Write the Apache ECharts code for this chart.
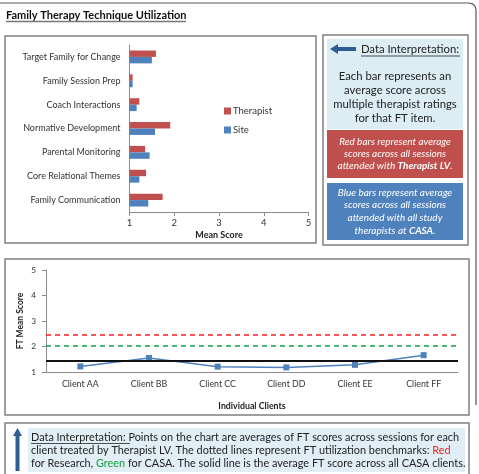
<!DOCTYPE html>
<html>
<head>
<meta charset="utf-8">
<script src="https://cdn.jsdelivr.net/npm/echarts@6/dist/echarts.min.js"></script>
<style>
  html, body { margin: 0; background: #fff; }
  #main { width: 479px; height: 474px; }
</style>
</head>
<body>
<div id="main"></div>
<script>
// FT items, bottom to top as on the chart
const items = ['Family Communication', 'Core Relational Themes', 'Parental Monitoring', 'Normative Development', 'Coach Interactions', 'Family Session Prep', 'Target Family for Change']
const therapist = [1.74, 1.37, 1.35, 1.91, 1.22, 1.07, 1.59]
const site = [1.42, 1.22, 1.45, 1.57, 1.16, 1.07, 1.50]
const scoreTicks = [1, 2, 3, 4, 5]

const clients = ['Client AA', 'Client BB', 'Client CC', 'Client DD', 'Client EE', 'Client FF']
const clientScores = [1.22, 1.55, 1.21, 1.18, 1.28, 1.66]
const researchBenchmark = 2.47
const casaBenchmark = 2.03
const casaAverage = 1.43

const FONT = 'Lato'
const RED = '#C0504D'
const BLUE = '#4F81BD'
const GREY = '#8c8c8c'
const ARROW = '#2E5D93'

const chart = echarts.init(document.getElementById('main'))

const axisBase = {
  min: scoreTicks[0],
  max: scoreTicks[scoreTicks.length - 1],
  interval: scoreTicks[1] - scoreTicks[0],
  axisLine: { show: true, lineStyle: { color: GREY } },
  axisTick: { show: true, length: 4, lineStyle: { color: GREY } },
  splitLine: { show: false },
  axisLabel: { fontFamily: FONT, fontSize: 9.5, color: '#333', margin: 6 }
}

chart.setOption({
  animation: false,
  textStyle: { fontFamily: FONT },
  grid: [
    { left: 129.5, right: 170.5, top: 45, bottom: 262 },
    { left: 46, right: 21, top: 270, bottom: 102 }
  ],
  legend: {
    data: ['Therapist', 'Site'],
    orient: 'vertical',
    left: 219,
    top: 101,
    icon: 'rect',
    itemWidth: 7,
    itemHeight: 7,
    itemGap: 9,
    textStyle: { fontFamily: FONT, fontSize: 9.5, color: '#333', padding: [0, 0, 0, -3] }
  },
  xAxis: [
    Object.assign({}, axisBase, {
      type: 'value',
      gridIndex: 0,
      name: 'Mean Score',
      nameLocation: 'middle',
      nameGap: 19,
      nameTextStyle: { fontFamily: FONT, fontSize: 9, fontWeight: 'bold', color: '#222' }
    }),
    {
      type: 'category',
      gridIndex: 1,
      data: clients,
      axisLine: { lineStyle: { color: GREY } },
      axisTick: { length: 4, lineStyle: { color: GREY } },
      axisLabel: { fontFamily: FONT, fontSize: 8.8, color: '#333', margin: 8 },
      name: 'Individual Clients',
      nameLocation: 'middle',
      nameGap: 30,
      nameTextStyle: { fontFamily: FONT, fontSize: 8.8, fontWeight: 'bold', color: '#222' }
    }
  ],
  yAxis: [
    {
      type: 'category',
      gridIndex: 0,
      data: items,
      axisLine: { lineStyle: { color: GREY } },
      axisTick: { length: 4, lineStyle: { color: GREY } },
      axisLabel: { fontFamily: FONT, fontSize: 9, color: '#333', margin: 9 }
    },
    Object.assign({}, axisBase, {
      type: 'value',
      gridIndex: 1,
      axisLabel: { fontFamily: FONT, fontSize: 8.3, color: '#333', margin: 10 },
      name: 'FT Mean Score',
      nameLocation: 'middle',
      nameRotate: 90,
      nameGap: 21,
      nameMoveOverlap: false,
      nameTextStyle: { fontFamily: FONT, fontSize: 8.5, fontWeight: 'bold', color: '#222' }
    })
  ],
  series: [
    {
      name: 'Therapist',
      type: 'bar',
      xAxisIndex: 0,
      yAxisIndex: 0,
      data: therapist,
      itemStyle: { color: RED },
      barCategoryGap: '46%',
      barGap: '0%'
    },
    {
      name: 'Site',
      type: 'bar',
      xAxisIndex: 0,
      yAxisIndex: 0,
      data: site,
      itemStyle: { color: BLUE },
      barCategoryGap: '46%',
      barGap: '0%'
    },
    {
      name: 'Client',
      type: 'line',
      xAxisIndex: 1,
      yAxisIndex: 1,
      data: clientScores,
      symbol: 'rect',
      symbolSize: 6,
      itemStyle: { color: BLUE },
      lineStyle: { color: BLUE, width: 1.5 },
      z: 3,
      markLine: {
        silent: true,
        symbol: 'none',
        label: { show: false },
        data: [
          { yAxis: researchBenchmark, lineStyle: { color: '#FF2020', type: [5, 4], width: 1.5 } },
          { yAxis: casaBenchmark, lineStyle: { color: '#10A040', type: [5, 4], width: 1.5 } },
          { yAxis: casaAverage, lineStyle: { color: '#111', type: 'solid', width: 2 } }
        ]
      }
    }
  ],
  graphic: [
    // outer frame (top and right edges only)
    { type: 'polyline', shape: { points: [[-5, 3], [469, 3], [472.5, 3.8], [475, 6], [476, 9.5], [476, 405]] }, style: { fill: null, stroke: '#555', lineWidth: 1.2 }, z: -1 },
    // title
    { type: 'text', x: 6, y: 15, style: { text: 'Family Therapy Technique Utilization', font: 'bold 11px ' + FONT, fill: '#111', textVerticalAlign: 'middle' } },
    { type: 'line', shape: { x1: 6, y1: 21.5, x2: 186, y2: 21.5 }, style: { stroke: '#777', lineWidth: 1.5 } },
    // panels
    { type: 'rect', shape: { x: 5, y: 36, width: 311, height: 207 }, style: { fill: null, stroke: '#808080', lineWidth: 1.5 } },
    { type: 'rect', shape: { x: 323, y: 35, width: 145, height: 210 }, style: { fill: null, stroke: '#808080', lineWidth: 1.5 } },
    { type: 'rect', shape: { x: 5, y: 259, width: 464, height: 156 }, style: { fill: null, stroke: '#808080', lineWidth: 1.5 } },
    { type: 'rect', shape: { x: 5, y: 423, width: 464, height: 60 }, style: { fill: null, stroke: '#808080', lineWidth: 1.5 } },
    // right side text panel
    { type: 'rect', shape: { x: 327, y: 39, width: 136, height: 90 }, style: { fill: '#DCEEF4' } },
    { type: 'polygon', shape: { points: [[330, 49], [338, 44], [338, 47], [356, 47], [356, 51], [338, 51], [338, 54]] }, style: { fill: ARROW } },
    { type: 'text', x: 410, y: 49, style: { text: 'Data Interpretation:', font: '11.3px ' + FONT, fill: '#222', textAlign: 'center', textVerticalAlign: 'middle' } },
    { type: 'line', shape: { x1: 361, y1: 56, x2: 460, y2: 56 }, style: { stroke: '#222', lineWidth: 0.8 } },
    { type: 'text', x: 395, y: 70, style: { text: 'Each bar represents an\naverage score across\nmultiple therapist ratings\nfor that FT item.', font: '11.3px ' + FONT, lineHeight: 13.7, fill: '#222', textAlign: 'center' } },
    { type: 'rect', shape: { x: 327, y: 130, width: 136, height: 48 }, style: { fill: RED } },
    {
      type: 'text', x: 395, y: 136,
      style: {
        text: 'Red bars represent average\nscores across all sessions\nattended with {b|Therapist LV}.',
        font: 'italic 10px ' + FONT, lineHeight: 12, fill: '#fff', textAlign: 'center',
        rich: { b: { fontWeight: 'bold', fontStyle: 'italic', fontSize: 10, fontFamily: FONT, fill: '#fff', lineHeight: 12 } }
      }
    },
    { type: 'rect', shape: { x: 327, y: 183, width: 136, height: 57 }, style: { fill: BLUE } },
    {
      type: 'text', x: 395, y: 186,
      style: {
        text: 'Blue bars represent average\nscores across all sessions\nattended with all study\ntherapists at {b|CASA}.',
        font: 'italic 10px ' + FONT, lineHeight: 12.7, fill: '#fff', textAlign: 'center',
        rich: { b: { fontWeight: 'bold', fontStyle: 'italic', fontSize: 10, fontFamily: FONT, fill: '#fff', lineHeight: 12.7 } }
      }
    },
    // bottom text box
    { type: 'rect', shape: { x: 28, y: 428, width: 437, height: 44 }, style: { fill: '#E2EEF5' } },
    { type: 'polygon', shape: { points: [[17.5, 428], [22, 436], [19.5, 436], [19.5, 471], [15.5, 471], [15.5, 436], [13, 436]] }, style: { fill: ARROW } },
    {
      type: 'text', x: 31, y: 430.5,
      style: {
        text: 'Data Interpretation: Points on the chart are averages of FT scores across sessions for each\nclient treated by Therapist LV. The dotted lines represent FT utilization benchmarks: {r|Red}\nfor Research, {g|Green} for CASA. The solid line is the average FT score across all CASA clients.',
        font: '10.9px ' + FONT, lineHeight: 13, fill: '#222',
        rich: {
          r: { fill: '#E8201E', fontSize: 10.9, fontFamily: FONT, lineHeight: 13 },
          g: { fill: '#10A040', fontSize: 10.9, fontFamily: FONT, lineHeight: 13 }
        }
      }
    },
    { type: 'line', shape: { x1: 31, y1: 443.5, x2: 130, y2: 443.5 }, style: { stroke: '#222', lineWidth: 0.8 } }
  ]
})
</script>
</body>
</html>
